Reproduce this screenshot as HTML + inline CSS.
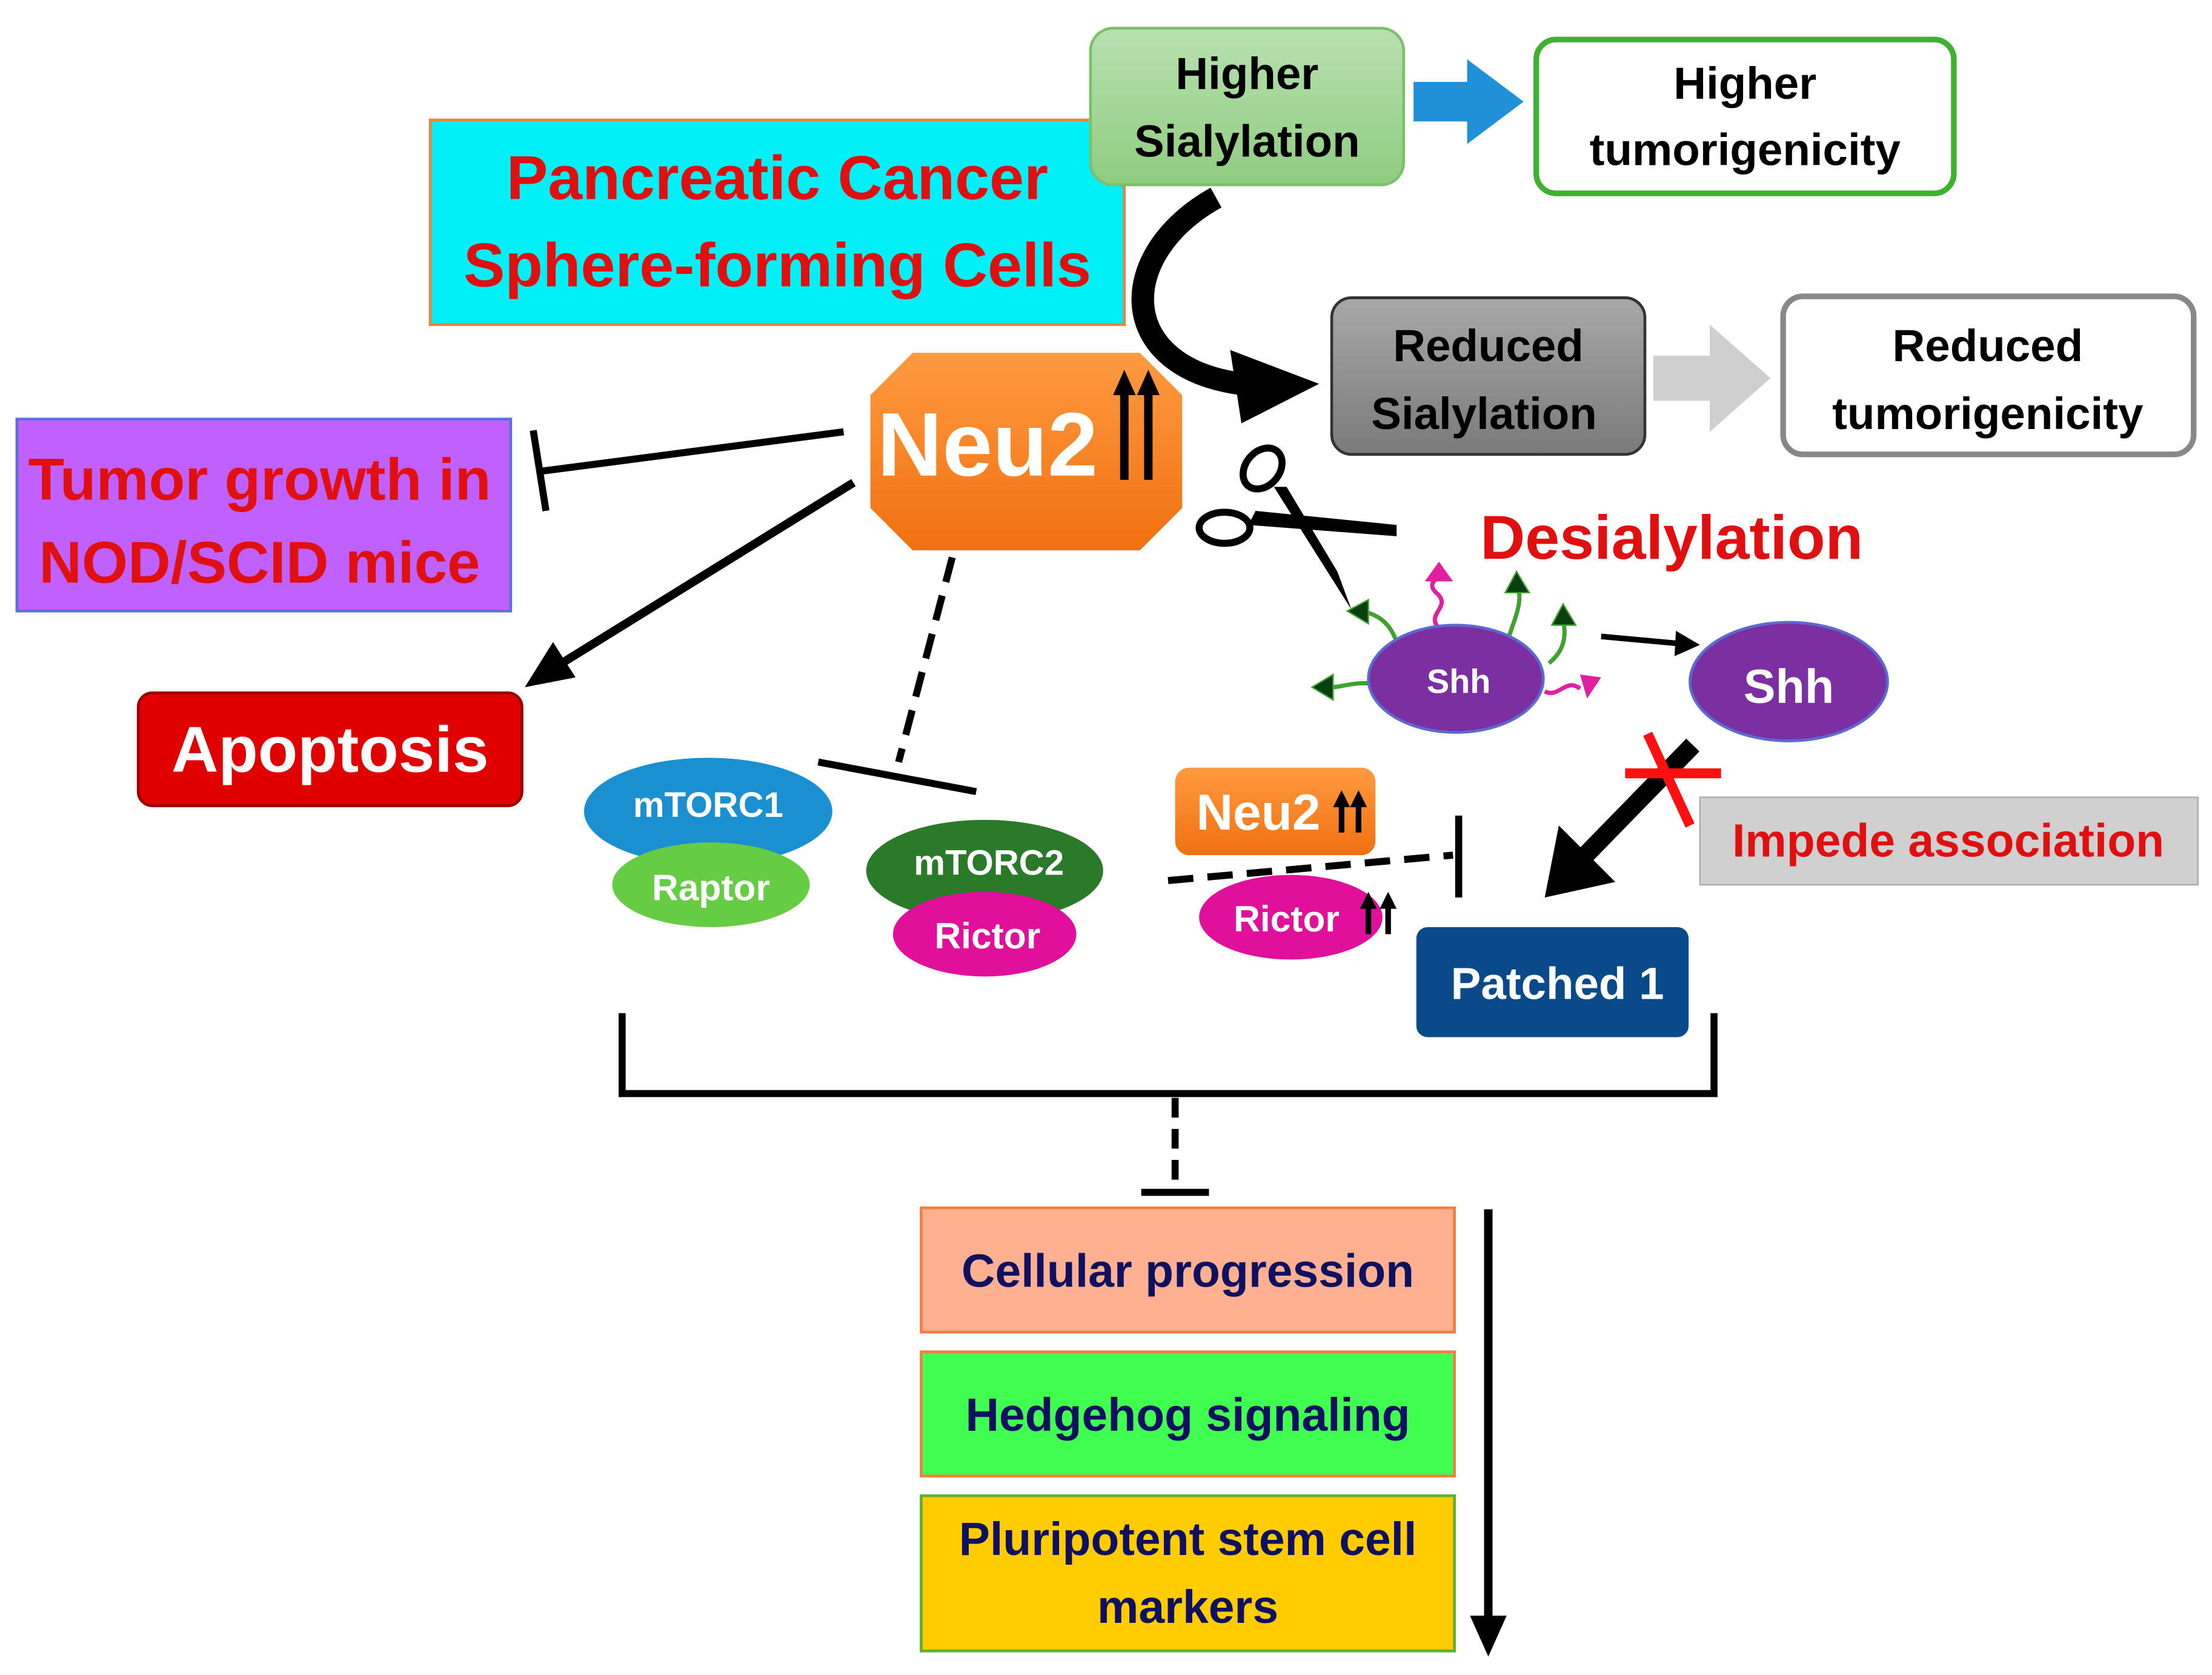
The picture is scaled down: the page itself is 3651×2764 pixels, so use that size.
<!DOCTYPE html>
<html><head><meta charset="utf-8"><style>
html,body{margin:0;padding:0;background:#fff}
svg{display:block}
text{font-family:"Liberation Sans",sans-serif;font-weight:bold}
</style></head><body>
<svg width="3651" height="2764" viewBox="0 0 1568 1187" xmlns="http://www.w3.org/2000/svg">
<defs>
<linearGradient id="gg" x1="0" y1="0" x2="0" y2="1"><stop offset="0" stop-color="#b8e0b0"/><stop offset="1" stop-color="#8fcc80"/></linearGradient>
<linearGradient id="gr" x1="0" y1="0" x2="0" y2="1"><stop offset="0" stop-color="#a8a8a8"/><stop offset="1" stop-color="#7a7a7a"/></linearGradient>
<linearGradient id="go" x1="0" y1="0" x2="0" y2="1"><stop offset="0" stop-color="#ff9a40"/><stop offset="1" stop-color="#f07010"/></linearGradient>
<marker id="ah" markerWidth="10" markerHeight="10" refX="5" refY="5" orient="auto" markerUnits="userSpaceOnUse" viewBox="0 0 10 10"><path d="M0,0 L10,5 L0,10 z" fill="#000"/></marker>
</defs>
<!-- Pancreatic -->
<rect x="305" y="85" width="492" height="145" fill="#00f0f8" stroke="#f08040" stroke-width="2"/>
<text x="551" y="141" font-size="44" fill="#e01010" text-anchor="middle">Pancreatic Cancer</text>
<text x="551" y="203" font-size="44" fill="#e01010" text-anchor="middle">Sphere-forming Cells</text>
<!-- Higher Sialylation -->
<rect x="773" y="20" width="222" height="111" rx="16" fill="url(#gg)" stroke="#7cc06c" stroke-width="2"/>
<text x="884" y="63" font-size="32" text-anchor="middle">Higher</text>
<text x="884" y="111" font-size="32" text-anchor="middle">Sialylation</text>
<polygon points="1002,58 1040,58 1040,42 1080,72 1040,102 1040,86 1002,86" fill="#2090d8"/>
<rect x="1089" y="28" width="296" height="109" rx="14" fill="#fff" stroke="#40b030" stroke-width="4"/>
<text x="1237" y="70" font-size="32" text-anchor="middle">Higher</text>
<text x="1237" y="117" font-size="32" text-anchor="middle">tumorigenicity</text>
<!-- Reduced -->
<rect x="944" y="211" width="222" height="111" rx="14" fill="url(#gr)" stroke="#333" stroke-width="2"/>
<text x="1055" y="256" font-size="32" text-anchor="middle">Reduced</text>
<text x="1052" y="304" font-size="32" text-anchor="middle">Sialylation</text>
<polygon points="1172,252 1212,252 1212,230 1255,268 1212,306 1212,284 1172,284" fill="#cfcfcf"/>
<rect x="1264" y="210" width="291" height="112" rx="14" fill="#fff" stroke="#888" stroke-width="4"/>
<text x="1409" y="256" font-size="32" text-anchor="middle">Reduced</text>
<text x="1409" y="304" font-size="32" text-anchor="middle">tumorigenicity</text>
<!-- curved arrow -->
<path d="M862,140 C790,180 790,260 880,272" fill="none" stroke="#000" stroke-width="16"/>
<polygon points="872,248 935,272 880,300" fill="#000"/>
<!-- Neu2 octagon -->
<polygon points="647,250 808,250 838,280 838,360 808,390 647,390 617,360 617,280" fill="url(#go)"/>
<text x="700" y="337" font-size="64" fill="#fff" text-anchor="middle">Neu2</text>
<line x1="797" y1="340" x2="797" y2="275" stroke="#000" stroke-width="6"/>
<line x1="814" y1="340" x2="814" y2="275" stroke="#000" stroke-width="6"/>
<polygon points="789,280 797,262 805,280" fill="#000"/><polygon points="806,280 814,262 822,280" fill="#000"/>
<!-- Tumor growth -->
<rect x="12" y="297" width="350" height="136" fill="#c060ff" stroke="#6070d0" stroke-width="2"/>
<text x="184" y="354" font-size="42" fill="#e01010" text-anchor="middle">Tumor growth in</text>
<text x="184" y="413" font-size="42" fill="#e01010" text-anchor="middle">NOD/SCID mice</text>
<line x1="598" y1="306" x2="383" y2="334" stroke="#000" stroke-width="5"/>
<line x1="378" y1="305" x2="387" y2="362" stroke="#000" stroke-width="5"/>
<line x1="605" y1="342" x2="395" y2="472" stroke="#000" stroke-width="6"/>
<polygon points="372,487 392,455 408,480" fill="#000"/>
<!-- Apoptosis -->
<rect x="98" y="491" width="272" height="80" rx="10" fill="#e00000" stroke="#900" stroke-width="2"/>
<text x="234" y="547" font-size="46" fill="#fff" text-anchor="middle">Apoptosis</text>
<!-- dashed to mTOR -->
<line x1="675" y1="395" x2="637" y2="540" stroke="#000" stroke-width="5" stroke-dasharray="18,10"/>
<line x1="580" y1="540" x2="692" y2="561" stroke="#000" stroke-width="5"/>
<ellipse cx="502" cy="575" rx="88" ry="38" fill="#1a90d0"/>
<text x="502" y="579" font-size="25" fill="#fff" text-anchor="middle">mTORC1</text>
<ellipse cx="504" cy="627" rx="70" ry="30" fill="#66cc44"/>
<text x="504" y="638" font-size="26" fill="#fff" text-anchor="middle">Raptor</text>
<ellipse cx="698" cy="617" rx="84" ry="36" fill="#2a7a2a"/>
<text x="701" y="620" font-size="25" fill="#fff" text-anchor="middle">mTORC2</text>
<ellipse cx="698" cy="662" rx="65" ry="30" fill="#e0109a"/>
<text x="700" y="672" font-size="26" fill="#fff" text-anchor="middle">Rictor</text>
<!-- small Neu2 -->
<rect x="833" y="544" width="142" height="62" rx="10" fill="url(#go)"/>
<text x="892" y="588" font-size="36" fill="#fff" text-anchor="middle">Neu2</text>
<path d="M951,590 V566 M963,590 V566" stroke="#000" stroke-width="4"/>
<polygon points="945,572 951,560 957,572" fill="#000"/><polygon points="957,572 963,560 969,572" fill="#000"/>
<ellipse cx="915" cy="650" rx="65" ry="30" fill="#e0109a"/>
<text x="912" y="660" font-size="26" fill="#fff" text-anchor="middle">Rictor</text>
<path d="M970,662 V638 M984,662 V638" stroke="#000" stroke-width="4"/>
<polygon points="964,644 970,632 976,644" fill="#000"/><polygon points="978,644 984,632 990,644" fill="#000"/>
<line x1="828" y1="624" x2="1030" y2="606" stroke="#000" stroke-width="5" stroke-dasharray="18,10"/>
<line x1="1034" y1="578" x2="1034" y2="636" stroke="#000" stroke-width="5"/>
<!-- Patched -->
<rect x="1004" y="657" width="193" height="78" rx="8" fill="#0a4a8a"/>
<text x="1104" y="708" font-size="32" fill="#fff" text-anchor="middle">Patched 1</text>
<!-- scissors -->
<ellipse cx="895" cy="332" rx="16" ry="12" fill="none" stroke="#000" stroke-width="5" transform="rotate(-50 895 332)"/>
<ellipse cx="868" cy="374" rx="18" ry="11" fill="none" stroke="#000" stroke-width="5"/>
<polygon points="903,345 958,432 948,405 912,345" fill="#000"/>
<polygon points="885,372 990,380 990,372 890,362" fill="#000"/>
<text x="1185" y="396" font-size="44" fill="#e01010" text-anchor="middle">Desialylation</text>
<!-- Shh -->
<path d="M990,455 C985,440 975,435 965,433 M975,485 C960,482 950,488 940,487 M1070,450 C1075,435 1080,425 1075,412 M1098,470 C1110,460 1110,450 1108,438" fill="none" stroke="#40a030" stroke-width="3"/>
<polygon points="955,433 970,425 970,442" fill="#0a4010" stroke="#40a030"/>
<polygon points="930,487 945,478 945,496" fill="#0a4010" stroke="#40a030"/>
<polygon points="1075,405 1067,420 1084,420" fill="#0a4010" stroke="#40a030"/>
<polygon points="1108,428 1100,443 1117,443" fill="#0a4010" stroke="#40a030"/>
<path d="M1020,445 C1010,435 1030,430 1018,420 C1010,412 1022,410 1020,405 M1095,490 C1105,495 1110,480 1120,488" fill="none" stroke="#e020a0" stroke-width="3"/>
<polygon points="1020,398 1010,412 1030,412" fill="#e020a0"/>
<polygon points="1135,480 1120,478 1125,495" fill="#e020a0"/>
<ellipse cx="1032" cy="481" rx="62" ry="38" fill="#7b2fa0" stroke="#5a6ad0" stroke-width="2"/>
<text x="1034" y="491" font-size="24" fill="#fff" text-anchor="middle">Shh</text>
<ellipse cx="1268" cy="483" rx="70" ry="42" fill="#7b2fa0" stroke="#5a6ad0" stroke-width="2"/>
<text x="1268" y="498" font-size="34" fill="#fff" text-anchor="middle">Shh</text>
<line x1="1135" y1="451" x2="1190" y2="456" stroke="#000" stroke-width="4"/>
<polygon points="1205,457 1188,447 1187,465" fill="#000"/>
<!-- big arrow -->
<line x1="1200" y1="528" x2="1122" y2="608" stroke="#000" stroke-width="13"/>
<polygon points="1095,636 1105,585 1145,625" fill="#000"/>
<path d="M1168,520 L1198,585 M1152,548 L1220,548" stroke="#ff1010" stroke-width="7"/>
<rect x="1205" y="565" width="353" height="62" fill="#d0d0d0" stroke="#aaa"/>
<text x="1381" y="607" font-size="33" fill="#e01010" text-anchor="middle">Impede association</text>
<!-- bracket -->
<path d="M441,718 V775 H1215 V718" fill="none" stroke="#000" stroke-width="5"/>
<line x1="833" y1="778" x2="833" y2="845" stroke="#000" stroke-width="5" stroke-dasharray="14,8"/>
<line x1="809" y1="845" x2="857" y2="845" stroke="#000" stroke-width="5"/>
<!-- bottom boxes -->
<rect x="653" y="856" width="378" height="88" fill="#ffb090" stroke="#f08040" stroke-width="2"/>
<text x="842" y="912" font-size="33" fill="#101060" text-anchor="middle">Cellular progression</text>
<rect x="653" y="958" width="378" height="88" fill="#40ff50" stroke="#f08040" stroke-width="2"/>
<text x="842" y="1014" font-size="33" fill="#101060" text-anchor="middle">Hedgehog signaling</text>
<rect x="653" y="1060" width="378" height="110" fill="#ffcc00" stroke="#60b030" stroke-width="2"/>
<text x="842" y="1102" font-size="33" fill="#101060" text-anchor="middle">Pluripotent stem cell</text>
<text x="842" y="1150" font-size="33" fill="#101060" text-anchor="middle">markers</text>
<line x1="1055" y1="857" x2="1055" y2="1150" stroke="#000" stroke-width="6"/>
<polygon points="1042,1145 1068,1145 1055,1174" fill="#000"/>
</svg>
</body></html>
